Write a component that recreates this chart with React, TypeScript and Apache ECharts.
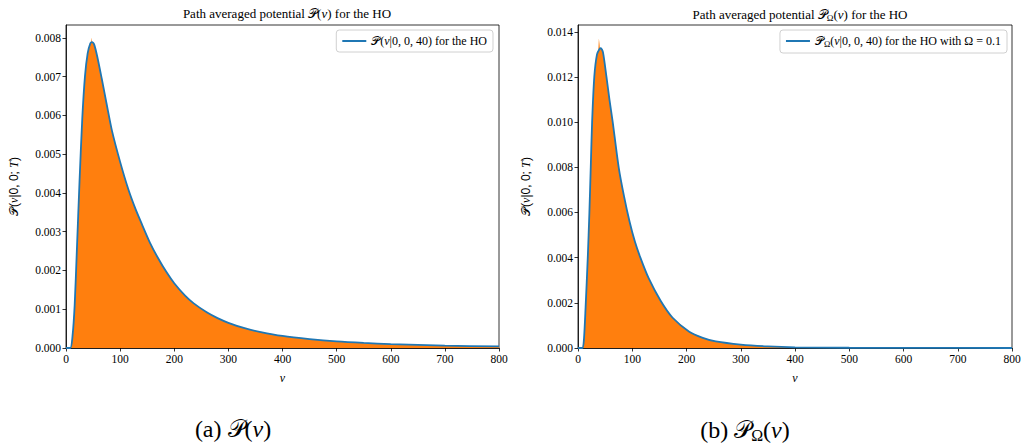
import React, { useEffect, useRef } from "react";
import * as echarts from "echarts";

// Left panel: P(v|0,0,40)
const vLeft = [0, 8, 12, 16, 20, 25, 30, 35, 40, 45, 48, 52, 58, 66, 75, 85, 100, 115, 128, 140, 155, 170, 185, 200, 220, 236, 260, 280, 300, 330, 360, 400, 450, 500, 550, 600, 700, 800];
const pLeft = [0, 0, 0.0003, 0.0011, 0.0025, 0.0043, 0.0059, 0.007, 0.0076, 0.00786, 0.00789, 0.00783, 0.0075, 0.00695, 0.0063, 0.0056, 0.0048, 0.0041, 0.0036, 0.0032, 0.00272, 0.00232, 0.00197, 0.00167, 0.00135, 0.00115, 0.00092, 0.00077, 0.00065, 0.00051, 0.00041, 0.00031, 0.00023, 0.00017, 0.00013, 0.0001, 0.00006, 0.00004];
const histVLeft = [0, 9, 12, 16, 20, 25, 30, 35, 40, 45, 46.5, 47.5, 48.5, 52, 58, 66, 75, 85, 100, 115, 128, 140, 155, 170, 185, 200, 220, 236, 260, 280, 300, 330, 360, 400, 450, 500, 550, 600, 700, 800];
const histPLeft = [0, 0, 0.0003, 0.0011, 0.0025, 0.0043, 0.0059, 0.007, 0.0076, 0.00786, 0.00788, 0.00801, 0.00788, 0.00783, 0.0075, 0.00695, 0.0063, 0.0056, 0.0048, 0.0041, 0.0036, 0.0032, 0.00272, 0.00232, 0.00197, 0.00167, 0.00135, 0.00115, 0.00092, 0.00077, 0.00065, 0.00051, 0.00041, 0.00031, 0.00023, 0.00017, 0.00013, 0.0001, 0.00006, 0.00004];

// Right panel: P_Omega(v|0,0,40)
const vRight = [0, 8, 11, 14, 18, 21, 23.5, 26, 30, 35, 40, 42, 46, 52.5, 58, 64, 75, 85, 95, 105, 115, 130, 152, 174, 205, 230, 254, 300, 350, 400, 500, 600, 800];
const pRight = [0, 0, 0.0004, 0.0018, 0.004, 0.006, 0.008, 0.01, 0.012, 0.013, 0.01325, 0.01327, 0.0131, 0.012, 0.011, 0.01, 0.008, 0.0067, 0.0056, 0.0047, 0.004, 0.0031, 0.0021, 0.00135, 0.00072, 0.00045, 0.00029, 0.00015, 0.00007, 0.00003, 0.00001, 0.000003, 0];
const histVRight = [0, 8, 11, 14, 18, 21, 23.5, 26, 30, 35, 37.5, 38.5, 39.5, 40.5, 42, 46, 52.5, 58, 64, 75, 85, 95, 105, 115, 130, 152, 174, 205, 230, 254, 300, 350, 400, 500, 600, 800];
const histPRight = [0, 0, 0.0004, 0.0018, 0.004, 0.006, 0.008, 0.01, 0.012, 0.013, 0.0132, 0.0137, 0.0135, 0.01325, 0.01327, 0.0131, 0.012, 0.011, 0.01, 0.008, 0.0067, 0.0056, 0.0047, 0.004, 0.0031, 0.0021, 0.00135, 0.00072, 0.00045, 0.00029, 0.00015, 0.00007, 0.00003, 0.00001, 0.000003, 0];

const xTicks = [0, 100, 200, 300, 400, 500, 600, 700, 800];
const yTicksLeft = [0, 0.001, 0.002, 0.003, 0.004, 0.005, 0.006, 0.007, 0.008];
const yTicksRight = [0, 0.002, 0.004, 0.006, 0.008, 0.01, 0.012, 0.014];

const nameLeft = "P(v|0,0,40) for the HO";
const nameRight = "P_Omega(v|0,0,40) for the HO with Omega = 0.1";

const FONT = "Liberation Serif";
const BLUE = "#1f77b4";
const ORANGE = "#ff7f0e";

const zip = (xs: number[], ys: number[]) => xs.map((x, i) => [x, ys[i]]);

const rich = {
  m: { fontFamily: FONT, fontSize: 13, color: "#000" },
  i: { fontFamily: FONT, fontStyle: "italic" as const, fontSize: 13, color: "#000" },
  s: { fontFamily: FONT, fontSize: 9, color: "#000", verticalAlign: "bottom" as const, padding: [6, 0, 0, 0] },
};

const richSmall = {
  m: { fontFamily: FONT, fontSize: 12, color: "#000" },
  i: { fontFamily: FONT, fontStyle: "italic" as const, fontSize: 12, color: "#000" },
  s: { fontFamily: FONT, fontSize: 8.5, color: "#000", verticalAlign: "bottom" as const, padding: [5, 0, 0, 0] },
};

const richBig = {
  m: { fontFamily: FONT, fontSize: 24, color: "#000" },
  i: { fontFamily: FONT, fontStyle: "italic" as const, fontSize: 24, color: "#000" },
  s: { fontFamily: FONT, fontSize: 16, color: "#000", verticalAlign: "bottom" as const, padding: [10, 0, 0, 0] },
};

function axisX(gridIndex: number) {
  return {
    type: "value" as const,
    gridIndex,
    min: 0,
    max: 800,
    interval: 100,
    name: "{i|v}",
    nameLocation: "middle" as const,
    nameGap: 24,
    nameTextStyle: { rich: richSmall },
    axisLine: { onZero: false, lineStyle: { color: "#000", width: 0.8 } },
    axisTick: { show: true, inside: false, length: 3.5, lineStyle: { color: "#000", width: 0.8 }, customValues: xTicks },
    axisLabel: { fontFamily: FONT, fontSize: 11.5, color: "#000", margin: 5, customValues: xTicks },
    splitLine: { show: false },
  };
}

function axisY(gridIndex: number, max: number, ticks: number[]) {
  return {
    type: "value" as const,
    gridIndex,
    min: 0,
    max,
    name: "{m|𝒫}({i|v}|0, 0; {i|T})",
    nameLocation: "middle" as const,
    nameRotate: 90,
    nameGap: 46,
    nameTextStyle: { rich: richSmall },
    axisLine: { show: true, onZero: false, lineStyle: { color: "#000", width: 0.8 } },
    axisTick: { show: true, inside: false, length: 3.5, lineStyle: { color: "#000", width: 0.8 }, customValues: ticks },
    axisLabel: {
      fontFamily: FONT,
      fontSize: 11.5,
      color: "#000",
      margin: 5,
      customValues: ticks,
      formatter: (v: number) => v.toFixed(3),
    },
    splitLine: { show: false },
  };
}

function legendFor(name: string, right: number, text: string) {
  return {
    data: [name],
    right,
    top: 30,
    orient: "vertical" as const,
    icon: "rect",
    itemWidth: 24,
    itemHeight: 2,
    itemGap: 0,
    padding: [5, 6, 5, 6],
    borderColor: "#d0d0d0",
    borderWidth: 1,
    borderRadius: 3,
    backgroundColor: "rgba(255,255,255,0.8)",
    formatter: () => text,
    textStyle: { fontFamily: FONT, fontSize: 12, color: "#000", rich: richSmall },
  };
}

export default function App() {
  const ref = useRef<HTMLDivElement>(null);
  useEffect(() => {
    document.body.style.margin = "0";
    if (!ref.current) return;
    const chart = echarts.init(ref.current, undefined, { renderer: "svg" });
    chart.setOption({
      animation: false,
      backgroundColor: "#fff",
      title: [
        {
          text: "Path averaged potential {m|𝒫}({i|v}) for the HO",
          left: 282,
          top: 2,
          textAlign: "center",
          textStyle: { fontFamily: FONT, fontSize: 13, fontWeight: "normal", color: "#000", rich },
        },
        {
          text: "Path averaged potential {m|𝒫}{s|Ω}({i|v}) for the HO",
          left: 795,
          top: 2,
          textAlign: "center",
          textStyle: { fontFamily: FONT, fontSize: 13, fontWeight: "normal", color: "#000", rich },
        },
        {
          text: "(a) {m|𝒫}({i|v})",
          left: 228,
          top: 412,
          textAlign: "center",
          textStyle: { fontFamily: FONT, fontSize: 24, fontWeight: "normal", color: "#000", rich: richBig },
        },
        {
          text: "(b) {m|𝒫}{s|Ω}({i|v})",
          left: 740,
          top: 412,
          textAlign: "center",
          textStyle: { fontFamily: FONT, fontSize: 24, fontWeight: "normal", color: "#000", rich: richBig },
        },
      ],
      legend: [
        legendFor(nameLeft, 1029 - 493, "{m|𝒫}({i|v}|0, 0, 40) for the HO"),
        legendFor(nameRight, 1029 - 1007, "{m|𝒫}{s|Ω}({i|v}|0, 0, 40) for the HO with Ω = 0.1"),
      ],
      grid: [
        { left: 66, top: 25, width: 433, height: 323, show: true, borderColor: "#000", borderWidth: 0.8, backgroundColor: "transparent" },
        { left: 578, top: 25, width: 434, height: 323, show: true, borderColor: "#000", borderWidth: 0.8, backgroundColor: "transparent" },
      ],
      xAxis: [axisX(0), axisX(1)],
      yAxis: [axisY(0, 0.00833, yTicksLeft), axisY(1, 0.0143, yTicksRight)],
      series: [
        {
          type: "line",
          name: "histLeft",
          xAxisIndex: 0,
          yAxisIndex: 0,
          data: zip(histVLeft, histPLeft),
          symbol: "none",
          lineStyle: { width: 0 },
          areaStyle: { color: ORANGE, opacity: 1 },
          itemStyle: { color: ORANGE },
          silent: true,
          z: 1,
        },
        {
          type: "line",
          name: nameLeft,
          xAxisIndex: 0,
          yAxisIndex: 0,
          data: zip(vLeft, pLeft),
          symbol: "none",
          smooth: 0.25,
          lineStyle: { color: BLUE, width: 1.8 },
          itemStyle: { color: BLUE },
          z: 2,
        },
        {
          type: "line",
          name: "histRight",
          xAxisIndex: 1,
          yAxisIndex: 1,
          data: zip(histVRight, histPRight),
          symbol: "none",
          lineStyle: { width: 0 },
          areaStyle: { color: ORANGE, opacity: 1 },
          itemStyle: { color: ORANGE },
          silent: true,
          z: 1,
        },
        {
          type: "line",
          name: nameRight,
          xAxisIndex: 1,
          yAxisIndex: 1,
          data: zip(vRight, pRight),
          symbol: "none",
          smooth: 0.25,
          lineStyle: { color: BLUE, width: 1.8 },
          itemStyle: { color: BLUE },
          z: 2,
        },
      ],
    });
    return () => chart.dispose();
  }, []);
  return <div ref={ref} style={{ width: 1029, height: 446 }} />;
}
